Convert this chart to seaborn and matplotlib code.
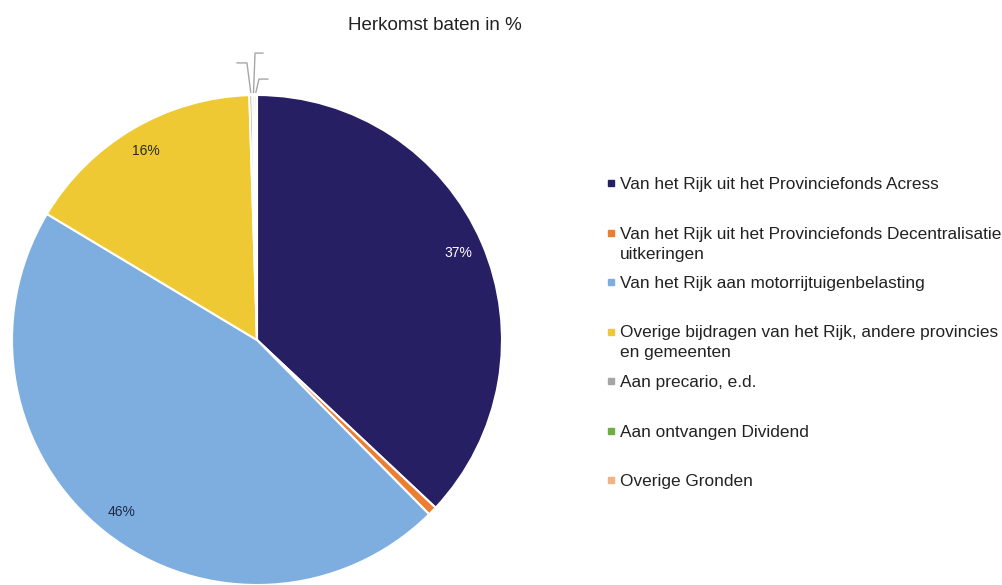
import numpy as np
import matplotlib
matplotlib.use("Agg")
import matplotlib.pyplot as plt
import seaborn as sns

# data
labels = [
    "Van het Rijk uit het Provinciefonds Acress",
    "Van het Rijk uit het Provinciefonds Decentralisatie\nuitkeringen",
    "Van het Rijk aan motorrijtuigenbelasting",
    "Overige bijdragen van het Rijk, andere provincies\nen gemeenten",
    "Aan precario, e.d.",
    "Aan ontvangen Dividend",
    "Overige Gronden",
]
shares = [37.0, 0.6, 46.0, 15.9, 0.2, 0.15, 0.15]
colors = ["#271f63", "#ed7d31", "#7eaedf", "#eec933", "#a5a5a5", "#70ad47", "#f4b183"]
pct_color = ["white", None, "#1e2a45", "#2a2a2a", None, None, None]

sns.set_theme(style="white")
plt.rcParams["font.family"] = ["Liberation Sans", "DejaVu Sans"]

W, H = 1003, 585
fig = plt.figure(figsize=(W / 100, H / 100), dpi=100)

# pie axes: centre (257, 340) px, radius 245 px
cx, cy, R = 257, 340, 245
ax = fig.add_axes([(cx - R) / W, (H - cy - R) / H, 2 * R / W, 2 * R / H])

wedges, _ = ax.pie(shares, colors=sns.color_palette(colors), startangle=90,
                   counterclock=False, radius=1,
                   wedgeprops=dict(edgecolor="white", linewidth=1.5))
ax.set_xlim(-1, 1)
ax.set_ylim(-1, 1)
ax.set_aspect("equal")
ax.axis("off")

# percentage labels
for w, v, c in zip(wedges, shares, pct_color):
    if c is None:
        continue
    mid = np.deg2rad((w.theta1 + w.theta2) / 2)
    ax.text(0.895 * np.cos(mid), 0.895 * np.sin(mid), f"{v:.0f}%",
            ha="center", va="center", fontsize=10, color=c)

# leader lines of the tiny slices (their labels are empty)
ends = [(-0.041, 1.131, -0.041), (-0.008, 1.171, 0.033), (0.008, 1.065, 0.037)]
for w, (ex, ey, hx) in zip(wedges[4:], ends):
    mid = np.deg2rad((w.theta1 + w.theta2) / 2)
    x0, y0 = 1.01 * np.cos(mid), 1.01 * np.sin(mid)
    ax.plot([x0, ex, ex + hx], [y0, ey, ey], color="#a6a6a6", lw=1, clip_on=False)

fig.text(435 / W, 1 - 30 / H, "Herkomst baten in %", ha="center", va="baseline",
         fontsize=13.5, color="#222222")

# legend, drawn by hand so that every entry keeps the same slot height
y_first, step, line_h = 189, 49.5, 20
for i, (lab, c) in enumerate(zip(labels, colors)):
    y = y_first + i * step
    fig.patches.append(plt.Rectangle((608 / W, 1 - (y - 3) / H), 6 / W, 6 / H,
                                     transform=fig.transFigure, color=c, figure=fig))
    for j, part in enumerate(lab.split("\n")):
        fig.text(620 / W, 1 - (y + j * line_h) / H, part, ha="left", va="baseline",
                 fontsize=12.4, color="#222222")

fig.savefig("out.png", dpi=100)
